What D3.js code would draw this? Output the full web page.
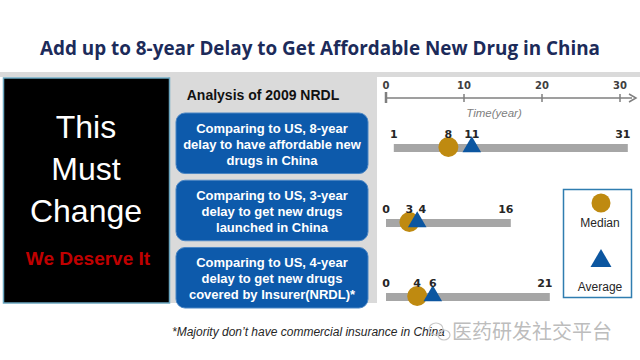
<!DOCTYPE html>
<html><head><meta charset="utf-8">
<script src="https://cdn.jsdelivr.net/npm/d3@7"></script>
<style>html,body{margin:0;padding:0;background:#fff;}svg{display:block;}</style>
</head><body>
<svg id="c" width="640" height="360"></svg>
<script>
const title = "Add up to 8-year Delay to Get Affordable New Drug in China";
const boxTexts = [
  ["Comparing to US, 8-year", "delay to have affordable new", "drugs in China"],
  ["Comparing to US, 3-year", "delay to get new drugs", "launched in China"],
  ["Comparing to US, 4-year", "delay to get new drugs", "covered by Insurer(NRDL)*"]
];
const minVals = [1, 0, 0];
const medianVals = [8, 3, 4];
const avgVals = [11, 4, 6];
const maxVals = [31, 16, 21];
const axisTicks = [0, 10, 20, 30];
const leftLines = ["This", "Must", "Change"];
const slogan = "We Deserve It";
const panelTitle = "Analysis of 2009 NRDL";
const footnote = "*Majority don\u2019t have commercial insurance in China";
const watermark = "医药研发社交平台";

const svg = d3.select("#c");
const GOLD = "#bf8a10", BLUE = "#0c56a0", BAR = "#a6a6a6", GRAY_BG = "#dadada";

// Title
svg.append("text").attr("x", 40).attr("y", 55)
  .attr("textLength", 560).attr("lengthAdjust", "spacingAndGlyphs")
  .style("font-family", "'Open Sans', sans-serif").style("font-weight", "bold")
  .style("font-size", "19.5px").attr("fill", "#1c2b5a").text(title);

// background bands
svg.append("rect").attr("x", 0).attr("y", 72).attr("width", 640).attr("height", 5).attr("fill", GRAY_BG);
svg.append("rect").attr("x", 168).attr("y", 72).attr("width", 209).attr("height", 231).attr("fill", GRAY_BG);

// black box
svg.append("rect").attr("x", 3.5).attr("y", 78).attr("width", 166).attr("height", 225)
  .attr("fill", "#000").attr("stroke", "#6aa6c0").attr("stroke-width", 1.5);
const lineY = d3.scaleLinear().domain([0, 2]).range([138, 222]);
svg.selectAll("text.big").data(leftLines).join("text").attr("class", "big")
  .attr("x", 86).attr("y", (d, i) => lineY(i)).attr("text-anchor", "middle")
  .style("font-family", "'Liberation Sans', Arial, sans-serif").style("font-size", "32px")
  .attr("fill", "#fff").text(d => d);
svg.append("text").attr("x", 88).attr("y", 264.5).attr("text-anchor", "middle")
  .style("font-family", "'Liberation Sans', Arial, sans-serif").style("font-weight", "bold")
  .style("font-size", "19px").attr("fill", "#c00000").text(slogan);

// middle panel
svg.append("text").attr("x", 263).attr("y", 100).attr("text-anchor", "middle")
  .style("font-family", "'Liberation Sans', Arial, sans-serif").style("font-weight", "bold")
  .style("font-size", "14px").attr("fill", "#111").text(panelTitle);

const boxY = d3.scaleBand().domain(d3.range(boxTexts.length)).range([113, 308]).paddingInner(0.1).paddingOuter(0);
const boxes = svg.selectAll("g.box").data(boxTexts).join("g").attr("class", "box")
  .attr("transform", (d, i) => `translate(176,${boxY(i)})`);
boxes.append("rect").attr("width", 192).attr("height", boxY.bandwidth()).attr("rx", 9)
  .attr("fill", "#0d5aab").attr("stroke", "#4b86c4").attr("stroke-width", 1);
boxes.selectAll("text").data(d => d).join("text")
  .attr("x", 96).attr("y", (d, i) => 19.5 + i * 16).attr("text-anchor", "middle")
  .style("font-family", "'Liberation Sans', Arial, sans-serif").style("font-weight", "bold")
  .style("font-size", "13px").attr("fill", "#fff").text(d => d);

// right panel: scale and axis
const x = d3.scaleLinear().domain([0, 30]).range([386, 620]);
const axisG = svg.append("g").attr("transform", "translate(0,98)");
axisG.append("line").attr("x1", x(0)).attr("x2", 632).attr("stroke", "#7f7f7f").attr("stroke-width", 1.5);
axisG.append("path").attr("d", "M629,-4 L636,0 L629,4").attr("fill", "none").attr("stroke", "#7f7f7f").attr("stroke-width", 1.5);
axisG.selectAll("line.tick").data(axisTicks).join("line").attr("class", "tick")
  .attr("x1", d => x(d)).attr("x2", d => x(d))
  .attr("y1", d => d === 0 ? -6 : -4).attr("y2", d => d === 0 ? 5 : 4)
  .attr("stroke", "#7f7f7f").attr("stroke-width", d => d === 0 ? 2.5 : 1.5);
axisG.selectAll("text.tl").data(axisTicks).join("text").attr("class", "tl")
  .attr("x", d => x(d)).attr("y", -9).attr("text-anchor", "middle")
  .style("font-family", "'DejaVu Sans', Verdana, sans-serif").style("font-weight", "bold")
  .style("font-size", "10px").attr("fill", "#404040").text(d => d);
svg.append("text").attr("x", 494).attr("y", 117).attr("text-anchor", "middle")
  .style("font-family", "'Liberation Sans', Arial, sans-serif").style("font-style", "italic")
  .style("font-size", "11.5px").attr("fill", "#808080").text("Time(year)");

// rows
const rowY = [148, 223, 297];
const rows = d3.range(minVals.length).map(i => ({min: minVals[i], med: medianVals[i], avg: avgVals[i], max: maxVals[i], y: rowY[i]}));
const rg = svg.selectAll("g.row").data(rows).join("g").attr("class", "row")
  .attr("transform", d => `translate(0,${d.y})`);
rg.append("rect").attr("x", d => x(d.min)).attr("y", -4).attr("width", d => x(d.max) - x(d.min)).attr("height", 8).attr("fill", BAR);
rg.append("circle").attr("cx", d => x(d.med)).attr("cy", -1).attr("r", 10).attr("fill", GOLD);
const tri = d3.symbol().type(d3.symbolTriangle).size(150);
rg.append("path").attr("d", tri).attr("transform", d => `translate(${x(d.avg)},-1)`).attr("fill", BLUE);
rg.each(function(d) {
  const g = d3.select(this);
  const labs = [d.min, d.med, d.avg, d.max].map((v, k) => ({v, px: x(v) + (k === 3 ? -5 : 0)}));
  // simple collision avoidance between neighbouring labels
  for (let k = 1; k < labs.length; k++) {
    if (labs[k].px - labs[k - 1].px < 13) labs[k].px = labs[k - 1].px + 13;
  }
  g.selectAll("text").data(labs).join("text")
    .attr("x", l => l.px).attr("y", -10).attr("text-anchor", "middle")
    .style("font-family", "'DejaVu Sans', Verdana, sans-serif").style("font-weight", "bold")
    .style("font-size", "11px").attr("fill", "#262626").text(l => l.v);
});

// legend
svg.append("rect").attr("x", 563.5).attr("y", 189.5).attr("width", 68).attr("height", 108)
  .attr("fill", "#fff").attr("stroke", "#2f7db0").attr("stroke-width", 1.5);
svg.append("circle").attr("cx", 601).attr("cy", 203).attr("r", 9.5).attr("fill", GOLD);
svg.append("text").attr("x", 600).attr("y", 227).attr("text-anchor", "middle")
  .style("font-family", "'Liberation Sans', Arial, sans-serif").style("font-size", "12px").attr("fill", "#262626").text("Median");
svg.append("path").attr("d", d3.symbol().type(d3.symbolTriangle).size(190)).attr("transform", "translate(601,261)").attr("fill", BLUE);
svg.append("text").attr("x", 600).attr("y", 291).attr("text-anchor", "middle")
  .style("font-family", "'Liberation Sans', Arial, sans-serif").style("font-size", "12px").attr("fill", "#262626").text("Average");

// footnote & watermark
svg.append("text").attr("x", 172).attr("y", 336)
  .style("font-family", "'Liberation Sans', Arial, sans-serif").style("font-style", "italic")
  .style("font-size", "12px").attr("fill", "#262626").text(footnote);
const wm = svg.append("g").attr("fill", "none").attr("stroke", "#c8c8c8").attr("stroke-width", 1.2);
wm.append("ellipse").attr("cx", 436).attr("cy", 329).attr("rx", 7).attr("ry", 6);
wm.append("ellipse").attr("cx", 444).attr("cy", 335).attr("rx", 6).attr("ry", 5);
svg.append("text").attr("x", 452).attr("y", 339)
  .style("font-family", "'Noto Sans CJK SC', sans-serif").style("font-size", "20px")
  .attr("fill", "#b4b4b4").attr("fill-opacity", 0.9).text(watermark);
</script>
</body></html>
